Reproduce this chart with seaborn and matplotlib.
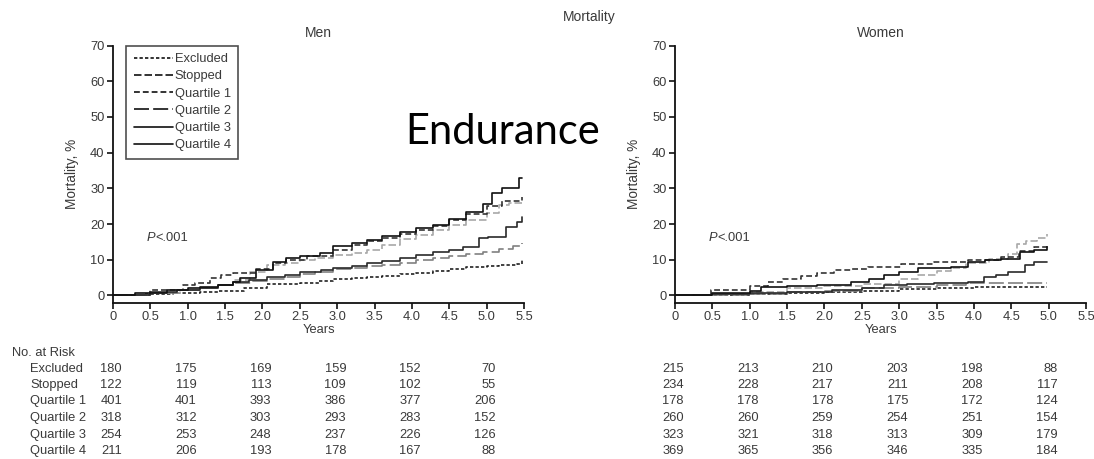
import numpy as np
import matplotlib
matplotlib.use("Agg")
import matplotlib.pyplot as plt
from matplotlib.lines import Line2D
import matplotlib.transforms as mtransforms
import seaborn as sns

sns.set_style("white")
plt.rcParams['font.family'] = ['Liberation Sans Narrow', 'Liberation Sans', 'DejaVu Sans']

#%% DATA
groups = ['Excluded', 'Stopped', 'Quartile 1', 'Quartile 2', 'Quartile 3', 'Quartile 4']
risk_years = [0, 1, 2, 3, 4, 5]

men_risk = {
    'Excluded':   [180, 175, 169, 159, 152, 70],
    'Stopped':    [122, 119, 113, 109, 102, 55],
    'Quartile 1': [401, 401, 393, 386, 377, 206],
    'Quartile 2': [318, 312, 303, 293, 283, 152],
    'Quartile 3': [254, 253, 248, 237, 226, 126],
    'Quartile 4': [211, 206, 193, 178, 167, 88],
}
women_risk = {
    'Excluded':   [215, 213, 210, 203, 198, 88],
    'Stopped':    [234, 228, 217, 211, 208, 117],
    'Quartile 1': [178, 178, 178, 175, 172, 124],
    'Quartile 2': [260, 260, 259, 254, 251, 154],
    'Quartile 3': [323, 321, 318, 313, 309, 179],
    'Quartile 4': [369, 365, 356, 346, 335, 184],
}

# men curves (years, mortality %)
men_t_excl = [0, 0.4, 0.8, 1.16, 1.4, 1.75, 2.06, 2.3, 2.5, 2.75, 2.94, 3.2, 3.4, 3.6, 3.84, 4.05, 4.28, 4.5, 4.73, 5.0, 5.17, 5.4, 5.47]
men_v_excl = [0, 0.3, 0.6, 1.0, 1.3, 2.2, 3.1, 3.3, 3.6, 4.0, 4.5, 4.8, 5.2, 5.5, 5.9, 6.3, 6.8, 7.4, 8.0, 8.3, 8.6, 8.8, 9.9]
men_t_stop = [0, 0.5, 0.9, 1.16, 1.4, 1.61, 1.84, 2.06, 2.3, 2.5, 2.7, 2.94, 3.2, 3.4, 3.6, 3.84, 4.05, 4.28, 4.5, 4.73, 5.0, 5.17, 5.3, 5.47]
men_v_stop = [0, 0.8, 1.4, 2.0, 3.0, 4.3, 6.7, 8.5, 9.2, 9.9, 10.6, 11.3, 12.0, 12.7, 14.0, 15.7, 17.0, 18.4, 19.6, 21.1, 23.0, 25.4, 25.8, 26.3]
men_t_q1 = [0, 0.49, 0.94, 1.1, 1.3, 1.45, 1.61, 1.92, 2.14, 2.32, 2.6, 2.94, 3.2, 3.4, 3.6, 3.84, 4.05, 4.28, 4.5, 4.73, 5.0, 5.2, 5.47]
men_v_q1 = [0, 1.4, 2.9, 3.5, 4.9, 5.6, 6.3, 7.4, 9.0, 10.0, 11.0, 12.8, 14.0, 15.2, 16.2, 17.3, 18.4, 19.4, 21.0, 22.8, 25.0, 26.5, 27.7]
men_t_q2 = [0, 0.5, 0.85, 1.16, 1.4, 1.61, 1.85, 2.06, 2.3, 2.5, 2.7, 2.94, 3.2, 3.4, 3.6, 3.84, 4.05, 4.28, 4.5, 4.73, 4.95, 5.17, 5.35, 5.47]
men_v_q2 = [0, 0.8, 1.5, 2.2, 2.9, 3.6, 4.0, 4.5, 5.2, 5.9, 6.6, 7.3, 7.8, 8.2, 8.6, 9.1, 9.9, 10.5, 11.0, 11.5, 12.2, 13.0, 13.8, 14.6]
men_t_q3 = [0, 0.5, 0.85, 1.16, 1.4, 1.61, 1.82, 2.06, 2.3, 2.5, 2.78, 2.94, 3.2, 3.4, 3.6, 3.84, 4.05, 4.28, 4.5, 4.69, 4.9, 5.02, 5.26, 5.4, 5.47]
men_v_q3 = [0, 0.9, 1.5, 2.0, 2.9, 3.8, 4.4, 5.2, 5.8, 6.7, 7.2, 7.7, 8.3, 9.1, 9.7, 10.5, 11.2, 12.2, 12.7, 13.6, 16.1, 16.4, 19.3, 20.5, 22.1]
men_t_q4 = [0, 0.3, 0.72, 1.0, 1.16, 1.4, 1.61, 1.7, 1.92, 2.14, 2.32, 2.5, 2.77, 2.94, 3.2, 3.4, 3.6, 3.84, 4.05, 4.28, 4.5, 4.73, 4.95, 5.07, 5.21, 5.43, 5.47]
men_v_q4 = [0, 0.6, 1.5, 2.0, 2.4, 2.9, 3.8, 4.9, 7.1, 9.4, 10.5, 11.0, 11.9, 13.9, 14.6, 15.5, 16.6, 17.8, 18.8, 19.8, 21.5, 23.4, 25.5, 28.7, 30.1, 32.9, 32.9]

# women curves
women_t_excl = [0, 0.5, 1.0, 1.5, 2.0, 2.5, 3.0, 3.5, 4.0, 4.5, 4.98]
women_v_excl = [0, 0.1, 0.3, 0.6, 0.9, 1.3, 1.8, 2.0, 2.3, 2.5, 2.5]
women_t_stop = [0, 0.5, 1.0, 1.5, 2.0, 2.5, 3.0, 3.25, 3.5, 3.7, 3.9, 4.2, 4.45, 4.58, 4.7, 4.85, 4.98]
women_v_stop = [0, 0.5, 1.0, 2.0, 2.6, 3.2, 4.6, 5.8, 6.8, 7.8, 9.0, 10.2, 11.5, 14.5, 15.2, 16.0, 17.2]
women_t_q1 = [0, 0.48, 1.0, 1.25, 1.45, 1.68, 1.9, 2.13, 2.35, 2.58, 3.02, 3.47, 3.92, 4.36, 4.6, 4.8, 4.98]
women_v_q1 = [0, 1.5, 2.6, 3.8, 4.6, 5.5, 6.3, 7.0, 7.5, 8.0, 8.8, 9.4, 9.9, 10.8, 12.5, 13.5, 14.5]
women_t_q2 = [0, 0.5, 1.0, 1.5, 2.0, 2.5, 3.0, 3.5, 3.9, 4.98]
women_v_q2 = [0, 0.2, 0.5, 0.9, 1.2, 2.0, 2.5, 3.0, 3.5, 3.5]
women_t_q3 = [0, 0.5, 1.0, 1.5, 2.1, 2.5, 2.8, 3.1, 3.47, 3.92, 4.14, 4.3, 4.45, 4.68, 4.8, 4.98]
women_v_q3 = [0, 0.3, 0.6, 1.0, 1.5, 2.2, 2.9, 3.2, 3.5, 3.8, 5.1, 5.7, 6.5, 8.5, 9.5, 9.5]
women_t_q4 = [0, 0.5, 1.0, 1.15, 1.5, 1.9, 2.35, 2.6, 2.8, 3.0, 3.25, 3.5, 3.7, 3.92, 4.15, 4.36, 4.62, 4.8, 4.98]
women_v_q4 = [0, 0.6, 1.3, 2.4, 2.6, 2.9, 3.8, 4.6, 5.6, 6.5, 7.6, 7.8, 8.0, 9.4, 9.8, 10.2, 12.2, 12.8, 13.7]

men_curves = {
    'Excluded': (men_t_excl, men_v_excl), 'Stopped': (men_t_stop, men_v_stop),
    'Quartile 1': (men_t_q1, men_v_q1), 'Quartile 2': (men_t_q2, men_v_q2),
    'Quartile 3': (men_t_q3, men_v_q3), 'Quartile 4': (men_t_q4, men_v_q4),
}
women_curves = {
    'Excluded': (women_t_excl, women_v_excl), 'Stopped': (women_t_stop, women_v_stop),
    'Quartile 1': (women_t_q1, women_v_q1), 'Quartile 2': (women_t_q2, women_v_q2),
    'Quartile 3': (women_t_q3, women_v_q3), 'Quartile 4': (women_t_q4, women_v_q4),
}

# styles
line_styles = {
    'Excluded': (0, (2, 1.3)), 'Stopped': (0, (4.5, 1.8)), 'Quartile 1': (0, (3.5, 1.8)),
    'Quartile 2': (0, (9, 2.5)), 'Quartile 3': '-', 'Quartile 4': '-',
}
line_colors = {
    'Excluded': '#222222', 'Stopped': '#a8a8a8', 'Quartile 1': '#333333',
    'Quartile 2': '#808080', 'Quartile 3': '#2a2a2a', 'Quartile 4': '#111111',
}
txt = '#3a3a3a'
fs = 9.3

#%% FIGURE
fig = plt.figure(figsize=(10.94, 4.59), dpi=100)
W, H = 1094, 459
def ax_rect(x0, x1, ytop, ybot):
    return [x0 / W, 1 - ybot / H, (x1 - x0) / W, (ybot - ytop) / H]

ax_m = fig.add_axes(ax_rect(113, 524, 45.5, 302.6))
ax_w = fig.add_axes(ax_rect(675, 1086, 45.5, 302.6))

for ax, curves, title in [(ax_m, men_curves, 'Men'), (ax_w, women_curves, 'Women')]:
    for g in groups:
        t, v = curves[g]
        sns.lineplot(x=t, y=v, ax=ax, color=line_colors[g], linestyle=line_styles[g],
                     linewidth=1.2, drawstyle='steps-post', legend=False)
    ax.set_xlim(0, 5.5)
    ax.set_ylim(-2, 70)
    ax.set_xticks(np.arange(0, 5.51, 0.5))
    ax.set_xticklabels(['0'] + ['%.1f' % v for v in np.arange(0.5, 5.51, 0.5)])
    ax.set_yticks(range(0, 71, 10))
    for s in ['top', 'right']:
        ax.spines[s].set_visible(False)
    for s in ['left', 'bottom']:
        ax.spines[s].set_color('#111111')
        ax.spines[s].set_linewidth(1.3)
    ax.spines['left'].set_bounds(-2, 70)
    ax.tick_params(axis='both', direction='out', length=4.5, width=1.2, color='#111111',
                   labelsize=fs, labelcolor=txt, pad=1.5, left=True, bottom=True)
    ax.set_xlabel('Years', fontsize=fs, color=txt, labelpad=1)
    ax.set_ylabel('Mortality, %', fontsize=fs + 0.5, color=txt, labelpad=8)
    ax.set_title(title, fontsize=fs + 0.7, color=txt, pad=6)
    p = ax.text(0.45, 16, 'P', fontsize=fs, color=txt, style='italic', va='center')
    ax.annotate('<.001', xy=(1, 0.5), xycoords=p, fontsize=fs, color=txt, va='center')
    ax.grid(False)

# legend (men only)
handles = [Line2D([0], [0], color='#111111', lw=1.2, linestyle=line_styles[g]) for g in groups]
leg = ax_m.legend(handles, groups, loc='upper left', bbox_to_anchor=(0.032, 1.0),
                  fontsize=fs, frameon=True, fancybox=False, handlelength=3.0,
                  handletextpad=0.15, labelspacing=0.4, borderpad=0.6, borderaxespad=0)
leg.get_frame().set_edgecolor('#222222')
leg.get_frame().set_linewidth(1.2)
for t in leg.get_texts():
    t.set_color(txt)

fig.text(589 / W, 1 - 17 / H, 'Mortality', fontsize=fs + 0.7, color=txt, ha='center', va='center')
fig.text(503 / W, 1 - 132 / H, 'Endurance', fontsize=30, color='black', ha='center', va='center',
         family=['Lato', 'DejaVu Sans'])

# No. at risk table
row_y = [369, 385, 401, 418, 435, 451]
fig.text(12 / W, 1 - 353 / H, 'No. at Risk', fontsize=fs, color=txt, va='center')
for i, g in enumerate(groups):
    fig.text(30 / W, 1 - row_y[i] / H, g, fontsize=fs, color=txt, va='center')
for ax, risk in [(ax_m, men_risk), (ax_w, women_risk)]:
    trans = mtransforms.blended_transform_factory(ax.transData, fig.transFigure)
    for i, g in enumerate(groups):
        for yr, n in zip(risk_years, risk[g]):
            ax.text(yr + 0.12, 1 - row_y[i] / H, str(n), transform=trans, fontsize=fs,
                    color=txt, ha='right', va='center', clip_on=False)

fig.savefig('out.png', dpi=100)
